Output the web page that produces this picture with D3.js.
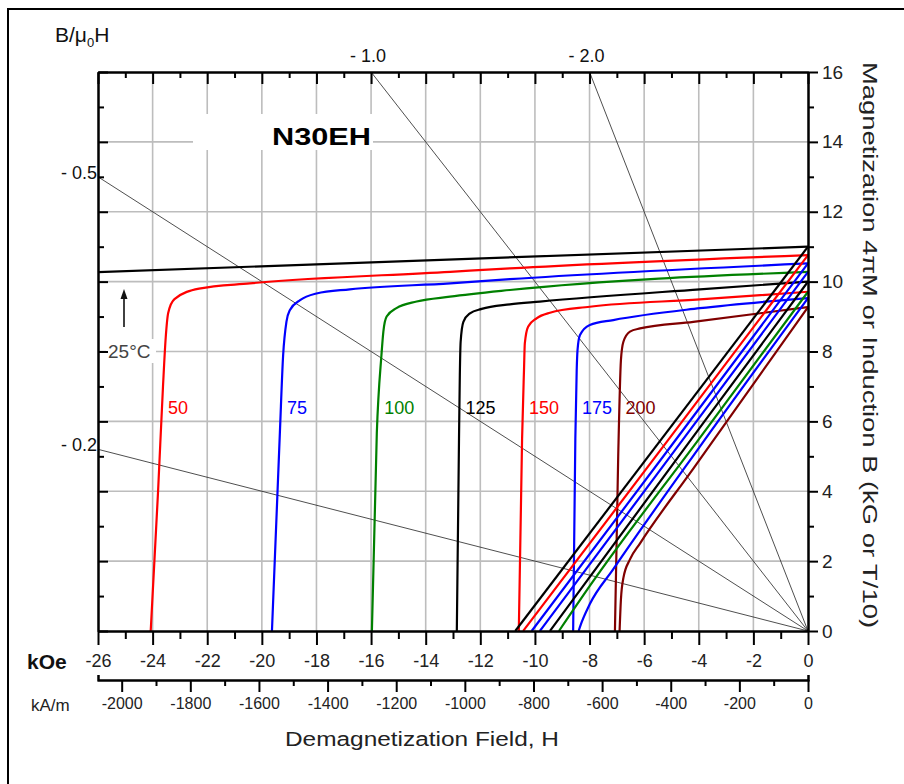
<!DOCTYPE html>
<html><head><meta charset="utf-8">
<script src="https://cdn.jsdelivr.net/npm/d3@7"></script>
<style>body{margin:0;background:#fff}svg{display:block}text{font-family:"Liberation Sans",Arial,sans-serif}</style>
</head><body><svg id="c" width="904" height="784"></svg>
<script>
// ---------- data ----------
const temperatures = [25, 50, 75, 100, 125, 150, 175, 200];
const curveColors = ["#000000", "#ff0000", "#0000ff", "#008000", "#000000", "#ff0000", "#0000ff", "#800000"];
// intrinsic (J) curves, [H kOe, J kG]
const intrinsic25 = [[-26, 10.27], [0, 11.0]];
const intrinsic50 = [[-24.07, 0], [-23.8, 4], [-23.62, 7.0], [-23.52, 8.4], [-23.43, 9.1], [-23.2, 9.5], [-22.3, 9.8], [-20.44, 9.95], [-13.1, 10.28], [-10.92, 10.38], [0, 10.76]];
const intrinsic75 = [[-19.63, 0], [-19.34, 5.67], [-19.22, 7.9], [-19.1, 8.85], [-18.97, 9.19], [-18.6, 9.47], [-18.0, 9.66], [-16.78, 9.78], [-13.1, 9.95], [-10.92, 10.07], [0, 10.52]];
const intrinsic100 = [[-15.97, 0], [-15.79, 5.67], [-15.62, 7.9], [-15.55, 8.57], [-15.43, 9.0], [-15.07, 9.24], [-14.33, 9.43], [-13.11, 9.57], [-10.92, 9.76], [0, 10.28]];
const intrinsic125 = [[-12.86, 0], [-12.78, 5.5], [-12.75, 7.33], [-12.72, 8.28], [-12.62, 8.85], [-12.38, 9.09], [-11.95, 9.22], [-10.92, 9.35], [-9.82, 9.43], [-3.96, 9.78], [0, 10.0]];
const intrinsic150 = [[-10.59, 0], [-10.47, 5.5], [-10.4, 7.47], [-10.37, 8.23], [-10.25, 8.71], [-9.94, 8.95], [-9.45, 9.11], [-7.99, 9.28], [-3.96, 9.49], [0, 9.71]];
const intrinsic175 = [[-8.6, 0], [-8.52, 5.5], [-8.47, 7.47], [-8.44, 8.04], [-8.35, 8.47], [-7.99, 8.76], [-7.13, 8.9], [-3.96, 9.24], [0, 9.53]];
const intrinsic200 = [[-7.07, 0], [-6.95, 5.0], [-6.85, 7.76], [-6.76, 8.28], [-6.52, 8.57], [-6.15, 8.66], [-4.2, 8.85], [0, 9.27]];
const intrinsicCurves = [intrinsic25, intrinsic50, intrinsic75, intrinsic100, intrinsic125, intrinsic150, intrinsic175, intrinsic200];
// normal (B) curves, [H kOe, B kG]
const normal25 = [[-10.72, 0], [0, 11.0]];
const normal50 = [[-10.43, 0], [-5.0, 5.59], [0, 10.76]];
const normal75 = [[-10.12, 0], [-5.0, 5.31], [0, 10.52]];
const normal100 = [[-9.82, 0], [-5.0, 5.04], [0, 10.28]];
const normal125 = [[-9.45, 0], [-3.96, 5.82], [0, 10.0]];
const normal150 = [[-9.12, 0], [-7.99, 1.29], [-3.96, 5.53], [0, 9.71]];
const normal175 = [[-8.4, 0], [-8.35, 0.12], [-7.99, 0.77], [-7.13, 1.77], [-3.96, 5.28], [0, 9.53]];
const normal200 = [[-6.9, 0], [-6.85, 0.91], [-6.76, 1.52], [-6.52, 2.05], [-6.15, 2.51], [-4.2, 4.65], [0, 9.27]];
const normalCurves = [normal25, normal50, normal75, normal100, normal125, normal150, normal175, normal200];
const normalColors = ["#000000", "#ff0000", "#0000ff", "#0000ff", "#000000", "#008000", "#0000ff", "#800000"];
// permeance (B/mu0H) load lines
const permeanceSlopes = [0.2, 0.5, 1.0, 2.0];
const permeanceLabels = ["- 0.2", "- 0.5", "- 1.0", "- 2.0"];
// ticks
const kOeMajor = [-26, -24, -22, -20, -18, -16, -14, -12, -10, -8, -6, -4, -2, 0];
const kOeLabels = ["-26", "-24", "-22", "-20", "-18", "-16", "-14", "-12", "-10", "-8", "-6", "-4", "-2", "0"];
const kOeMinor = [-25, -23, -21, -19, -17, -15, -13, -11, -9, -7, -5, -3, -1];
const kAmMajor = [-2000, -1800, -1600, -1400, -1200, -1000, -800, -600, -400, -200, 0];
const kAmLabels = ["-2000", "-1800", "-1600", "-1400", "-1200", "-1000", "-800", "-600", "-400", "-200", "0"];
const kAmMinor = [-1900, -1700, -1500, -1300, -1100, -900, -700, -500, -300, -100];
const bMajor = [0, 2, 4, 6, 8, 10, 12, 14, 16];
const bLabels = ["0", "2", "4", "6", "8", "10", "12", "14", "16"];
const bMinor = [1, 3, 5, 7, 9, 11, 13, 15];
const gridH = [-24, -22, -20, -18, -16, -14, -12, -10, -8, -6, -4, -2];
const gridB = [2, 4, 6, 8, 10, 12, 14];
const KAM_PER_KOE = 79.5775;

// ---------- chart ----------
const svg = d3.select("#c");
svg.append("rect").attr("width", 904).attr("height", 784).attr("fill", "#fff");
svg.append("rect").attr("x", 8).attr("y", 9).attr("width", 1000).attr("height", 1000)
  .attr("fill", "none").attr("stroke", "#000").attr("stroke-width", 2);

const x = d3.scaleLinear().domain([-26, 0]).range([98, 808]);
const y = d3.scaleLinear().domain([0, 16]).range([631, 72]);
const xk = d3.scaleLinear().domain([-26 * KAM_PER_KOE, 0]).range([98, 808]);

// grid
svg.append("g").selectAll("line").data(gridH).join("line")
  .attr("x1", d => x(d)).attr("x2", d => x(d)).attr("y1", y(16)).attr("y2", y(0))
  .attr("stroke", "#bdbdbd").attr("stroke-width", 1.6);
svg.append("g").selectAll("line").data(gridB).join("line")
  .attr("y1", d => y(d)).attr("y2", d => y(d)).attr("x1", x(-26)).attr("x2", x(0))
  .attr("stroke", "#bdbdbd").attr("stroke-width", 1.6);

// title box
svg.append("rect").attr("x", 193).attr("y", 114).attr("width", 180).attr("height", 36).attr("fill", "#fff");
svg.append("text").attr("x", 272).attr("y", 145).attr("font-size", 24).attr("font-weight", "bold")
  .attr("textLength", 99).attr("lengthAdjust", "spacingAndGlyphs").attr("fill", "#000").text("N30EH");

// permeance lines
permeanceSlopes.forEach((k, i) => {
  const hEnd = Math.max(-26, -16 / k);
  svg.append("line").attr("x1", x(0)).attr("y1", y(0)).attr("x2", x(hEnd)).attr("y2", y(-k * hEnd))
    .attr("stroke", "#222").attr("stroke-width", 0.8);
  const lbl = svg.append("text").attr("font-size", 18).attr("fill", "#111").text(permeanceLabels[i]);
  if (hEnd === -26) {
    lbl.attr("x", 97).attr("y", y(-k * hEnd) + 2).attr("text-anchor", "end");
  } else {
    lbl.attr("x", x(hEnd) - 3).attr("y", 62).attr("text-anchor", "middle");
  }
});

// 25°C label + arrow
svg.append("rect").attr("x", 106).attr("y", 339).attr("width", 50).attr("height", 24).attr("fill", "#fff");
svg.append("text").attr("x", 108).attr("y", 358).attr("font-size", 19).attr("fill", "#444").text("25°C");
svg.append("line").attr("x1", 124).attr("y1", 327).attr("x2", 124).attr("y2", 297)
  .attr("stroke", "#111").attr("stroke-width", 1.6);
svg.append("path").attr("d", "M124,289 L120.5,299 L127.5,299 Z").attr("fill", "#111");

// curves
const line = d3.line().x(d => x(d[0])).y(d => y(d[1])).curve(d3.curveMonotoneX);
svg.append("g").selectAll("path").data(intrinsicCurves).join("path")
  .attr("d", line).attr("fill", "none").attr("stroke", (d, i) => curveColors[i]).attr("stroke-width", 2.2);
svg.append("g").selectAll("path").data(normalCurves).join("path")
  .attr("d", line).attr("fill", "none").attr("stroke", (d, i) => normalColors[i]).attr("stroke-width", 2.2);

// temperature labels
function hAt(curve, b) {
  for (let i = 0; i < curve.length - 1; i++) {
    const a = curve[i], c = curve[i + 1];
    if (b >= a[1] && b <= c[1]) return a[0] + (b - a[1]) / (c[1] - a[1]) * (c[0] - a[0]);
  }
  return curve[0][0];
}
const labelB = 6.4;
temperatures.forEach((t, i) => {
  if (i === 0) return;
  svg.append("text").attr("x", x(hAt(intrinsicCurves[i], labelB)) + 6).attr("y", y(labelB) + 7)
    .attr("font-size", 18).attr("fill", curveColors[i]).text(t);
});

// axes
function styleAxis(g, fs) {
  g.attr("font-size", fs || 17).attr("font-family", "Liberation Sans, Arial, sans-serif");
  g.select(".domain").attr("stroke", "#000").attr("stroke-width", 2);
  g.selectAll(".tick line").attr("stroke", "#000").attr("stroke-width", 2);
  g.selectAll(".tick text").attr("fill", "#222");
}
// bottom kOe
svg.append("g").attr("transform", "translate(0,631)")
  .call(d3.axisBottom(x).tickValues(kOeMinor).tickSize(8).tickSizeOuter(0).tickFormat(""))
  .call(styleAxis);
svg.append("g").attr("transform", "translate(0,631)")
  .call(d3.axisBottom(x).tickValues(kOeMajor).tickSize(14).tickSizeOuter(0).tickPadding(9)
    .tickFormat((d, i) => kOeLabels[i]))
  .call(styleAxis, 18);
// top
svg.append("g").attr("transform", "translate(0,72)")
  .call(d3.axisTop(x).tickValues(kOeMinor).tickSize(-6).tickSizeOuter(0).tickFormat(""))
  .call(styleAxis);
svg.append("g").attr("transform", "translate(0,72)")
  .call(d3.axisTop(x).tickValues(kOeMajor).tickSize(-12).tickSizeOuter(0).tickFormat(""))
  .call(styleAxis);
// left
svg.append("g").attr("transform", "translate(98,0)")
  .call(d3.axisLeft(y).tickValues(bMinor).tickSize(-6).tickSizeOuter(0).tickFormat(""))
  .call(styleAxis);
svg.append("g").attr("transform", "translate(98,0)")
  .call(d3.axisLeft(y).tickValues(bMajor).tickSize(-10).tickSizeOuter(0).tickFormat(""))
  .call(styleAxis);
// right
svg.append("g").attr("transform", "translate(808,0)")
  .call(d3.axisRight(y).tickValues(bMinor).tickSize(6).tickSizeOuter(0).tickFormat(""))
  .call(styleAxis);
svg.append("g").attr("transform", "translate(808,0)")
  .call(d3.axisRight(y).tickValues(bMajor).tickSize(10).tickSizeOuter(0).tickPadding(4)
    .tickFormat((d, i) => bLabels[i]))
  .call(styleAxis, 19);
// kA/m
svg.append("g").attr("transform", "translate(0,680)")
  .call(d3.axisBottom(xk).tickValues(kAmMinor).tickSize(6).tickSizeOuter(-5).tickFormat(""))
  .call(styleAxis);
svg.append("g").attr("transform", "translate(0,680)")
  .call(d3.axisBottom(xk).tickValues(kAmMajor).tickSize(12).tickSizeOuter(-5).tickPadding(6)
    .tickFormat((d, i) => kAmLabels[i]))
  .call(styleAxis, 16);

// axis titles
const bt = svg.append("text").attr("x", 55).attr("y", 42).attr("font-size", 21).attr("fill", "#111");
bt.append("tspan").text("B/μ");
bt.append("tspan").attr("font-size", 13).attr("dy", 5).text("0");
bt.append("tspan").attr("dy", -5).text("H");
svg.append("text").attr("x", 27).attr("y", 669).attr("font-size", 21).attr("font-weight", "bold")
  .attr("fill", "#111").text("kOe");
svg.append("text").attr("x", 31).attr("y", 711).attr("font-size", 17).attr("fill", "#222").text("kA/m");
svg.append("text").attr("x", 422).attr("y", 746).attr("font-size", 20).attr("text-anchor", "middle")
  .attr("fill", "#222").attr("textLength", 274).attr("lengthAdjust", "spacingAndGlyphs")
  .text("Demagnetization Field, H");
svg.append("text").attr("transform", "translate(863,62) rotate(90)").attr("font-size", 21)
  .attr("fill", "#222").attr("textLength", 566).attr("lengthAdjust", "spacingAndGlyphs")
  .text("Magnetization 4πM or Induction B (kG or T/10)");
</script>
</body></html>
